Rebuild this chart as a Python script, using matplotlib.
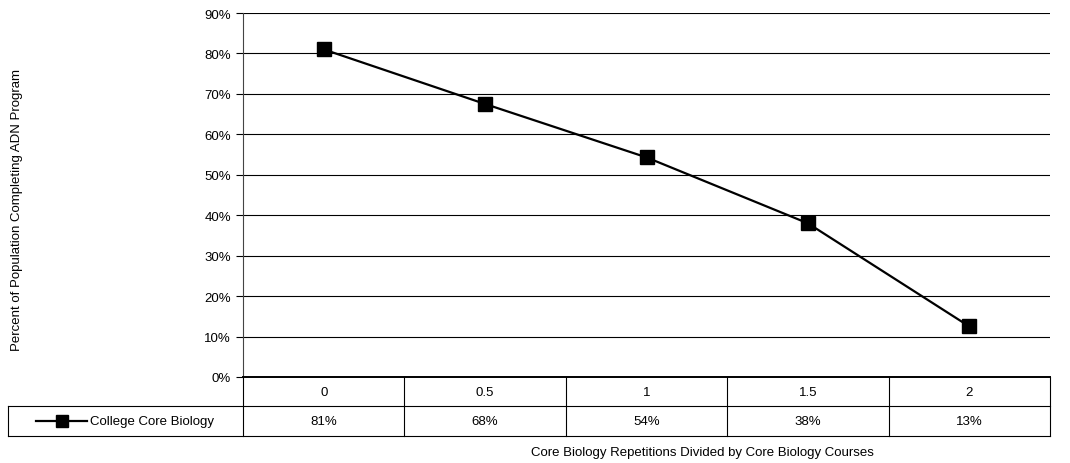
import matplotlib.pyplot as plt
from matplotlib.lines import Line2D

categories = ["0", "0.5", "1", "1.5", "2"]
values = [81, 67.5, 54.3, 38, 12.5]
table_labels = ["81%", "68%", "54%", "38%", "13%"]
series_name = "College Core Biology"

plt.rcParams["font.family"] = "Liberation Sans"

fig = plt.figure(figsize=(10.7, 4.64), dpi=100)
ax = fig.add_axes([243 / 1070, 1 - 378 / 464, 807 / 1070, 364 / 464])

x = list(range(len(categories)))
ax.plot(x, values, color="black", lw=1.6, marker="s", ms=10, zorder=3)
ax.set_xlim(-0.5, len(categories) - 0.5)
ax.set_ylim(0, 90)
ax.set_yticks(range(0, 91, 10))
ax.set_yticklabels([f"{v}%" for v in range(0, 91, 10)], fontsize=9.5)
ax.set_xticks([])
ax.grid(axis="y", color="black", lw=0.8)
ax.tick_params(axis="y", direction="out", length=5, width=0.8)
for s in ["top", "right"]:
    ax.spines[s].set_visible(False)
ax.spines["left"].set_color("#444444")
ax.spines["bottom"].set_linewidth(1.4)
ax.set_axisbelow(True)

# data table
r1 = -29 / 364
r2 = -59 / 364
leg_left = (8 - 243) / 807
cw = 1 / len(categories)
kw = dict(transform=ax.transAxes, clip_on=False, color="black", lw=0.8)
ax.plot([leg_left, 1], [r2, r2], **kw)
ax.plot([leg_left, 1], [r1, r1], **kw)
ax.plot([leg_left, leg_left], [r1, r2], **kw)
for i in range(len(categories) + 1):
    ax.plot([i * cw, i * cw], [0, r2], **kw)
for i, (c, t) in enumerate(zip(categories, table_labels)):
    ax.text((i + 0.5) * cw, r1 / 2, c, transform=ax.transAxes, ha="center", va="center", fontsize=9.5)
    ax.text((i + 0.5) * cw, (r1 + r2) / 2, t, transform=ax.transAxes, ha="center", va="center", fontsize=9.5)
ym = (r1 + r2) / 2
lx0 = (36 - 243) / 807
lx1 = (87 - 243) / 807
ax.add_line(Line2D([lx0, lx1], [ym, ym], transform=ax.transAxes, clip_on=False, color="black", lw=1.6))
ax.add_line(Line2D([(lx0 + lx1) / 2], [ym], transform=ax.transAxes, clip_on=False, color="black",
                   marker="s", ms=8))
ax.text((90 - 243) / 807, ym, series_name, transform=ax.transAxes, ha="left", va="center", fontsize=9.5)

fig.text(702 / 1070, 1 - 453 / 464, "Core Biology Repetitions Divided by Core Biology Courses",
         ha="center", va="center", fontsize=9.5)
fig.text(17 / 1070, 1 - 210 / 464, "Percent of Population Completing ADN Program",
         ha="center", va="center", rotation=90, fontsize=9.5)

fig.savefig("out.png", dpi=100)
